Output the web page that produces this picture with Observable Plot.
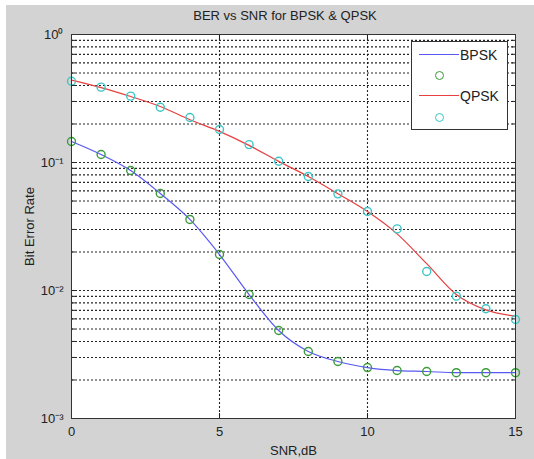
<!DOCTYPE html>
<html><head><meta charset="utf-8">
<script src="https://cdn.jsdelivr.net/npm/d3@7"></script>
<script src="https://cdn.jsdelivr.net/npm/@observablehq/plot@0.6"></script>
<style>
html,body{margin:0;padding:0;background:#fff;}
#fig{position:absolute;left:6px;top:5px;width:528px;height:454px;background:#d3d3d3;font-family:"Liberation Sans",Arial,sans-serif;color:#222;overflow:visible;}
#title{height:23px;line-height:22px;text-align:center;font-size:13px;padding-left:30px;box-sizing:border-box;}
#chart svg{overflow:visible;display:block;}
#legend{position:absolute;left:405px;top:36px;width:97px;height:89px;box-sizing:border-box;background:#fff;border:1px solid #333;font-size:14px;}
.row{position:absolute;left:7px;height:16px;width:88px;}
.ln{position:absolute;left:0;top:7px;width:40px;height:0;border-top:1.3px solid;}
.ci{position:absolute;left:16px;top:3px;width:7px;height:7px;border:1.3px solid;border-radius:50%;}
.tx{position:absolute;left:41px;top:0;line-height:16px;}
</style>
</head><body>
<div id="fig">
  <div id="title">BER vs SNR for BPSK &amp; QPSK</div>
  <div id="chart"></div>
  <div id="legend"></div>
</div>
<script>
const snr = [0,1,2,3,4,5,6,7,8,9,10,11,12,13,14,15];
const bpskLine = [0.146,0.1155,0.0866,0.0573,0.0359,0.0191,0.0093,0.00487,0.00334,0.00279,0.0025,0.00237,0.00233,0.00228,0.00228,0.00228];
const bpskDots = [0.146,0.1155,0.0866,0.0573,0.0359,0.0191,0.0093,0.00487,0.00334,0.00279,0.0025,0.00237,0.00233,0.00228,0.00228,0.00228];
const qpskLine = [0.44,0.385,0.328,0.274,0.216,0.175,0.136,0.102,0.0778,0.057,0.0414,0.0277,0.0162,0.0093,0.00706,0.0063];
const qpskDots = [0.4315,0.3878,0.33,0.2704,0.2247,0.181,0.138,0.1023,0.0778,0.0569,0.0414,0.0303,0.01407,0.00903,0.0072,0.00593];
const xTicks = [0,5,10,15];
const xGrid = [5,10];
const yMajor = [0.001,0.01,0.1,1];
const yTickLabels = ["10\u207B\u00B3","10\u207B\u00B2","10\u207B\u00B9","10\u2070"];
const seriesNames = ["BPSK","","QPSK",""];
const colors = {bpsk:"#5858f4", bpskDot:"#3c9a3c", qpsk:"#e64040", qpskDot:"#3cc6c6"};

const yAll = [];
for (let k = -3; k < 0; k++) for (let m = 1; m < 10; m++) yAll.push(+(m * Math.pow(10, k)).toPrecision(3));
yAll.push(1);

const rows = snr.map((s, i) => ({snr: s, bl: bpskLine[i], bd: bpskDots[i], ql: qpskLine[i], qd: qpskDots[i]}));
const fmt = v => yTickLabels[yMajor.findIndex(t => Math.abs(t - v) / v < 1e-6)];
const blank = () => "";

const grid = {stroke: "#1a1a1a", strokeDasharray: "2,2", strokeWidth: 1.1, strokeOpacity: 0.95};
const chart = Plot.plot({
  width: 528, height: 431,
  marginTop: 6, marginBottom: 41, marginLeft: 65, marginRight: 19,
  style: {background: "transparent", fontFamily: '"Liberation Sans", Arial, sans-serif', fontSize: "13px", color: "#222", overflow: "visible"},
  x: {domain: [0, 15]},
  y: {type: "log", domain: [0.001, 1]},
  marks: [
    Plot.frame({fill: "white"}),
    Plot.ruleY(yAll, {y: d => d, ...grid}),
    Plot.ruleX(xGrid, {x: d => d, ...grid}),
    Plot.line(rows, {x: "snr", y: "bl", stroke: colors.bpsk, strokeWidth: 1.2, curve: "monotone-x"}),
    Plot.dot(rows, {x: "snr", y: "bd", r: 4, stroke: colors.bpskDot, strokeWidth: 1.4}),
    Plot.line(rows, {x: "snr", y: "ql", stroke: colors.qpsk, strokeWidth: 1.2, curve: "monotone-x"}),
    Plot.dot(rows, {x: "snr", y: "qd", r: 4, stroke: colors.qpskDot, strokeWidth: 1.4}),
    Plot.axisX({ticks: xTicks, tickSize: 0, tickPadding: 8, tickFormat: d => String(d), label: "SNR,dB", labelAnchor: "center", labelOffset: 36, labelArrow: "none"}),
    Plot.axisX({ticks: xTicks, anchor: "bottom", tickSize: -5, tickFormat: blank, label: null}),
    Plot.axisX({ticks: xTicks, anchor: "top", tickSize: -5, tickFormat: blank, label: null}),
    Plot.axisY({ticks: yMajor, tickSize: 0, tickPadding: 8, tickFormat: fmt, label: "Bit Error Rate", labelAnchor: "center", labelOffset: 47, labelArrow: "none"}),
    Plot.axisY({ticks: yAll, anchor: "left", tickSize: -4, tickFormat: blank, label: null}),
    Plot.axisY({ticks: yAll, anchor: "right", tickSize: -4, tickFormat: blank, label: null}),
    Plot.frame({stroke: "#333"})
  ]
});
document.getElementById("chart").appendChild(chart);

const lg = document.getElementById("legend");
const legendItems = [
  {name: seriesNames[0], kind: "ln", color: colors.bpsk},
  {name: seriesNames[1], kind: "ci", color: colors.bpskDot},
  {name: seriesNames[2], kind: "ln", color: colors.qpsk},
  {name: seriesNames[3], kind: "ci", color: colors.qpskDot}
];
const tops = [5, 26, 46, 68];
legendItems.forEach((it, i) => {
  const r = document.createElement("div");
  r.className = "row"; r.style.top = tops[i] + "px";
  const s = document.createElement("div"); s.className = it.kind; s.style.borderColor = it.color;
  r.appendChild(s);
  if (it.name) { const t = document.createElement("div"); t.className = "tx"; t.textContent = it.name; r.appendChild(t); }
  lg.appendChild(r);
});
</script>
</body></html>
